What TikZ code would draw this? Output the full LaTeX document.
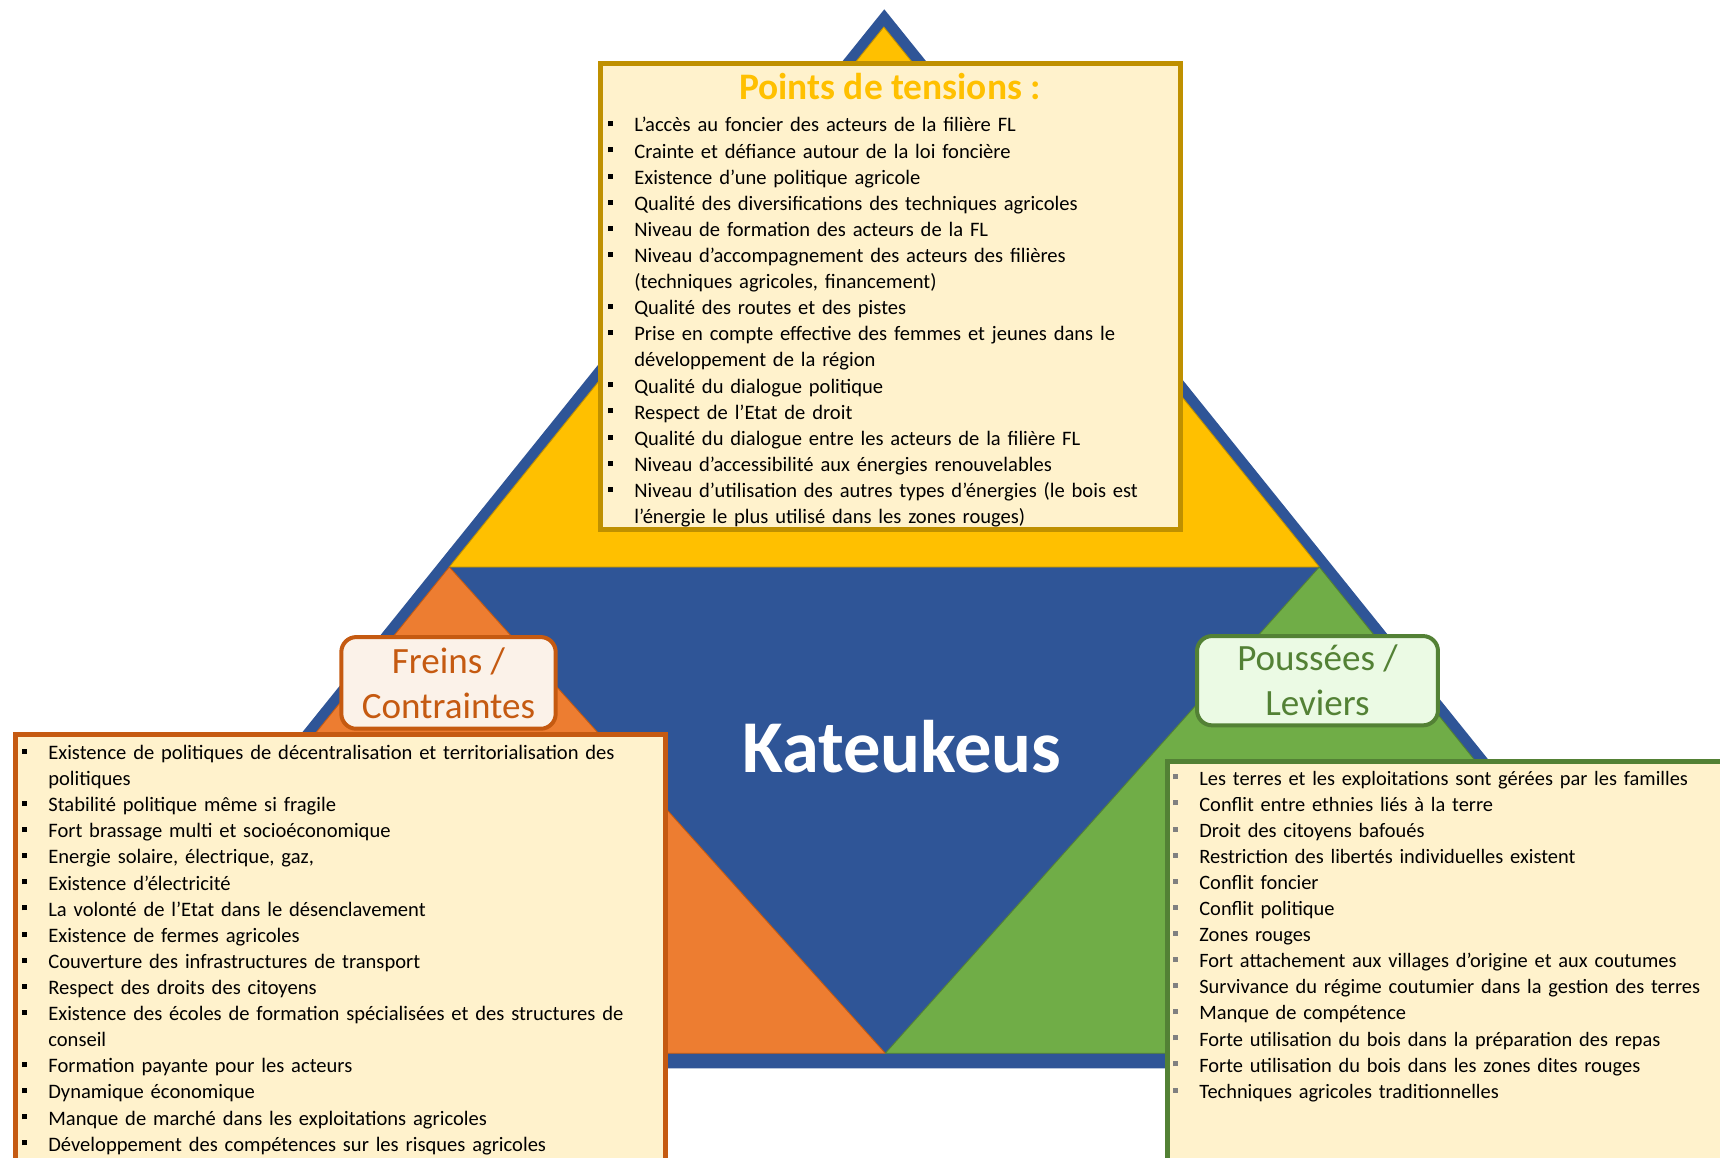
\documentclass[tikz,border=0pt]{standalone}
\usepackage{fontspec}
\setmainfont{Carlito}
\definecolor{kblue}{HTML}{2F5597}
\definecolor{kyellow}{HTML}{FFC000}
\definecolor{korange}{HTML}{ED7D31}
\definecolor{kgreen}{HTML}{70AD47}
\definecolor{ydark}{HTML}{BF9000}
\definecolor{odark}{HTML}{C55A11}
\definecolor{gdark}{HTML}{538135}
\definecolor{boxfill}{HTML}{FFF2CC}
\definecolor{ofill}{HTML}{FBF2E9}
\definecolor{gfill}{HTML}{EBFAE4}
\definecolor{sqgray}{HTML}{808080}
\colorlet{bullcol}{black}
% square bullet and hanging item
\newcommand{\bsq}{\textcolor{bullcol}{\rule[0.114cm]{0.1cm}{0.1cm}}}
\newcommand{\itm}[1]{\noindent\hangindent=0.52cm\hangafter=1\makebox[0.52cm][l]{\bsq}#1\par}
\begin{document}
\begin{tikzpicture}[x=0.02cm,y=-0.02cm,
    tri/.style={line width=0.5pt,line join=round},
    listbox/.style={fill=boxfill,line width=0.1cm},
    tag/.style={rounded corners=0.3cm,line width=0.08cm,align=center,inner sep=0pt,
      font=\fontsize{21.1}{25.6}\selectfont},
    items/.style={anchor=base west,inner sep=0pt,text width=16cm,align=left,
      font=\fontsize{11.7}{14.86}\selectfont}]
    \useasboundingbox (0,0) rectangle (1720,1158);
    \clip (0,0) rectangle (1720,1158);
    % triangle
    \fill[kblue] (884.3,9.3) -- (31.8,1068.3) -- (1736.8,1068.3) -- cycle;
    \draw[tri,fill=kyellow,draw=ydark] (883.8,27) -- (449.3,567) -- (1319.3,567) -- cycle;
    \draw[tri,fill=korange,draw=odark] (449.3,567) -- (57.8,1053.3) -- (885.3,1053.3) -- cycle;
    \draw[tri,fill=kgreen,draw=gdark] (1319.3,567) -- (885.3,1053.3) -- (1710.5,1053.3) -- cycle;
    % boxes
    \draw[listbox,draw=ydark] (600.5,64) rectangle (1180,529);
    \draw[listbox,draw=odark] (15.2,734.8) rectangle (665.8,1190);
    \draw[listbox,draw=gdark] (1167.5,761) rectangle (1740,1190);
    \node[anchor=base,inner sep=0pt,text=kyellow,font=\bfseries\fontsize{21.3}{26}\selectfont] (tensions) at (890,99.8) {Points de tensions :};
    \node[items] (listtop) at (608,132) {%
      \itm{L’accès au foncier des acteurs de la filière FL}
      \itm{Crainte et défiance autour de la loi foncière}
      \itm{Existence d’une politique agricole}
      \itm{Qualité des diversifications des techniques agricoles}
      \itm{Niveau de formation des acteurs de la FL}
      \itm{Niveau d’accompagnement des acteurs des filières\newline(techniques agricoles, financement)}
      \itm{Qualité des routes et des pistes}
      \itm{Prise en compte effective des femmes et jeunes dans le\newline développement de la région}
      \itm{Qualité du dialogue politique}
      \itm{Respect de l’Etat de droit}
      \itm{Qualité du dialogue entre les acteurs de la filière FL}
      \itm{Niveau d’accessibilité aux énergies renouvelables}
      \itm{Niveau d’utilisation des autres types d’énergies (le bois est\newline l’énergie le plus utilisé dans les zones rouges)}};
    \node[items] (listleft) at (22,759.5) {%
      \itm{Existence de politiques de décentralisation et territorialisation des\newline politiques}
      \itm{Stabilité politique même si fragile}
      \itm{Fort brassage multi et socioéconomique}
      \itm{Energie solaire, électrique, gaz,}
      \itm{Existence d’électricité}
      \itm{La volonté de l’Etat dans le désenclavement}
      \itm{Existence de fermes agricoles}
      \itm{Couverture des infrastructures de transport}
      \itm{Respect des droits des citoyens}
      \itm{Existence des écoles de formation spécialisées et des structures de\newline conseil}
      \itm{Formation payante pour les acteurs}
      \itm{Dynamique économique}
      \itm{Manque de marché dans les exploitations agricoles}
      \itm{Développement des compétences sur les risques agricoles}};
    \node[items,font=\fontsize{11.62}{14.86}\selectfont] (listright) at (1173,785) {%
      \colorlet{bullcol}{sqgray}%
      \itm{Les terres et les exploitations sont gérées par les familles}
      \itm{Conflit entre ethnies liés à la terre}
      \itm{Droit des citoyens bafoués}
      \itm{Restriction des libertés individuelles existent}
      \itm{Conflit foncier}
      \itm{Conflit politique}
      \itm{Zones rouges}
      \itm{Fort attachement aux villages d’origine et aux coutumes}
      \itm{Survivance du régime coutumier dans la gestion des terres}
      \itm{Manque de compétence}
      \itm{Forte utilisation du bois dans la préparation des repas}
      \itm{Forte utilisation du bois dans les zones dites rouges}
      \itm{Techniques agricoles traditionnelles}};
    % labels
    \node[tag,draw=odark,fill=ofill,text=odark,minimum width=4.288cm,minimum height=1.834cm] (freins) at (448.5,682.9) {Freins /\\Contraintes};
    \node[tag,draw=gdark,fill=gfill,text=gdark,minimum width=4.82cm,minimum height=1.786cm] (poussees) at (1317.5,680.7) {Poussées /\\Leviers};
    \node[anchor=base,inner sep=0pt,text=white,font=\bfseries\fontsize{42.4}{50}\selectfont] (centre) at (902,772) {Kateukeus};
\end{tikzpicture}
\end{document}
